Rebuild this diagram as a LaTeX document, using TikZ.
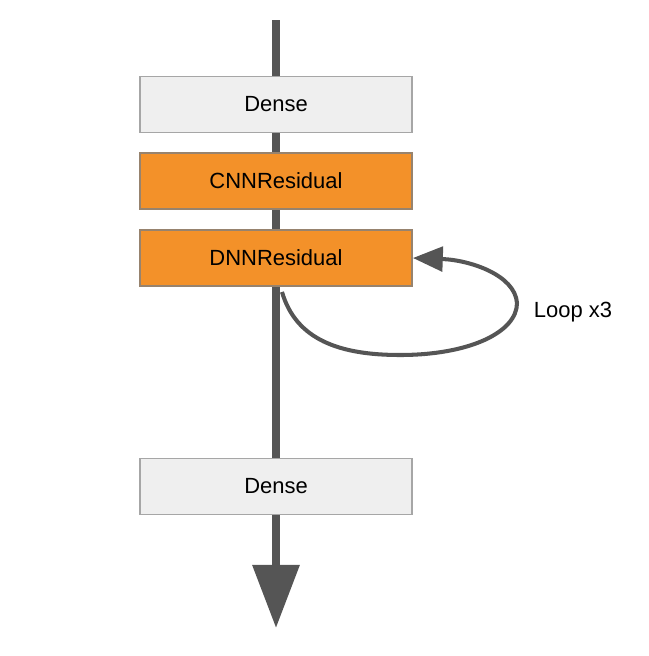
\documentclass[tikz,border=0pt]{standalone}
\usepackage{fontspec}
\setsansfont{Liberation Sans}
\usetikzlibrary{arrows.meta}
\definecolor{layerorange}{HTML}{F39129}
\definecolor{layergray}{HTML}{EFEFEF}
\definecolor{flowgray}{HTML}{555555}
\tikzset{
  layer/.style={draw=gray!70, line width=1.1pt, minimum width=5.44cm, minimum height=1.12cm, inner sep=0pt},
  denselayer/.style={layer, fill=layergray},
  reslayer/.style={layer, fill=layerorange, draw=gray!80!layerorange},
}
\begin{document}
\begin{tikzpicture}[x=0.02cm, y=-0.02cm, font=\sffamily\fontsize{12.5}{15}\selectfont]
      \useasboundingbox (0,0) rectangle (649,656);
      % main flow
      \coordinate (flow top) at (276,20);
      \coordinate (flow end) at (276,628);
      \draw[flowgray, line width=4.5pt, -{Triangle[length=36pt, width=26pt]}] (flow top) -- (flow end);
      % layers
      \node[denselayer] (dense in)  at (276,104.5) {Dense};
      \node[reslayer]   (cnn res)   at (276,181)   {CNNResidual};
      \node[reslayer]   (dnn res)   at (276,258)   {DNNResidual};
      \node[denselayer] (dense out) at (276,486.5) {Dense};
      % loop
      \draw[flowgray, line width=2.3pt, -{Triangle[length=17pt, width=14pt]}]
        ([xshift=0.12cm, yshift=-0.1cm]dnn res.south)
          .. controls (296,340) and (340,355) .. (400,355)
          .. controls (470,355) and (517,332) .. (517,303)
          .. controls (515,275) and (470,260) .. (dnn res.east);
      \node (loop label) at (573,312) {Loop x3};
\end{tikzpicture}
\end{document}
